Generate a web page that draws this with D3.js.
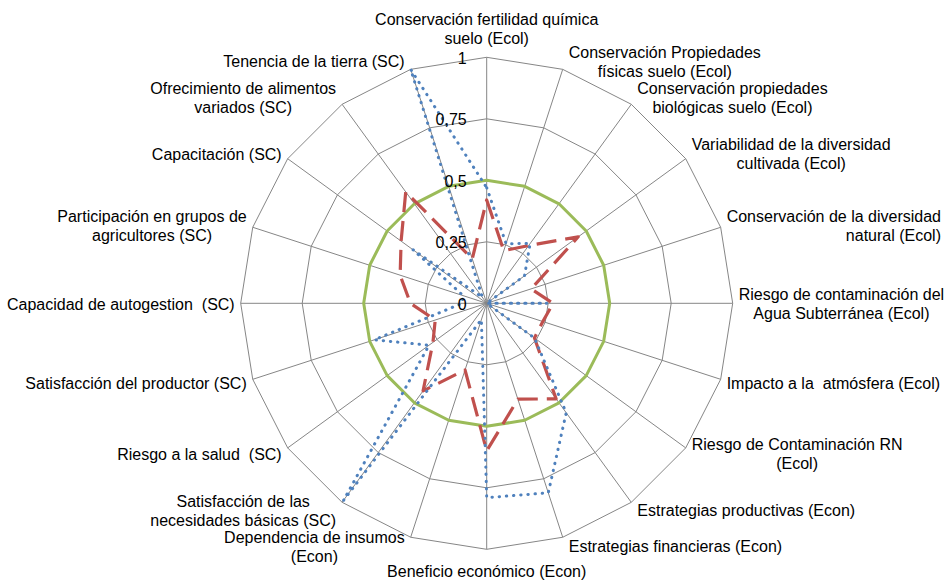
<!DOCTYPE html>
<html>
<head>
<meta charset="utf-8">
<script src="https://cdn.jsdelivr.net/npm/d3@7"></script>
<style>
  html, body { margin: 0; padding: 0; background: #ffffff; }
  svg { display: block; }
  text { font-family: "Liberation Sans", Arial, sans-serif; font-size: 16px; fill: #000; white-space: pre; }
</style>
</head>
<body>
<svg id="chart" width="946" height="581"></svg>
<script>
// Indicator names (line breaks marked with \n), clockwise from the top
const categories = [
  "Conservación fertilidad química\nsuelo (Ecol)",
  "Conservación Propiedades\nfísicas suelo (Ecol)",
  "Conservación propiedades\nbiológicas suelo (Ecol)",
  "Variabilidad de la diversidad\ncultivada (Ecol)",
  "Conservación de la diversidad\nnatural (Ecol)",
  "Riesgo de contaminación del\nAgua Subterránea (Ecol)",
  "Impacto a la  atmósfera (Ecol)",
  "Riesgo de Contaminación RN\n(Ecol)",
  "Estrategias productivas (Econ)",
  "Estrategias financieras (Econ)",
  "Beneficio económico (Econ)",
  "Dependencia de insumos\n(Econ)",
  "Satisfacción de las\nnecesidades básicas (SC)",
  "Riesgo a la salud  (SC)",
  "Satisfacción del productor (SC)",
  "Capacidad de autogestion  (SC)",
  "Participación en grupos de\nagricultores (SC)",
  "Capacitación (SC)",
  "Ofrecimiento de alimentos\nvariados (SC)",
  "Tenencia de la tierra (SC)"
];

// Normalised indicator values (0–1)
const sistemaA = [0.47, 0.255, 0.30, 0.19, 0.00, 0.245, 0.00, 0.24, 0.55, 0.81,
                  0.79, 0.07, 0.99, 0.29, 0.48, 0.10, 0.10, 0.37, 0.03, 1.00];
const sistemaB = [0.42, 0.225, 0.29, 0.46, 0.19, 0.27, 0.24, 0.24, 0.48, 0.41,
                  0.60, 0.285, 0.44, 0.27, 0.22, 0.31, 0.37, 0.43, 0.56, 0.19];
const umbral   = [0.5, 0.5, 0.5, 0.5, 0.5, 0.5, 0.5, 0.5, 0.5, 0.5,
                  0.5, 0.5, 0.5, 0.5, 0.5, 0.5, 0.5, 0.5, 0.5, 0.5];

// Radial axis ticks
const tickValues = [0, 0.25, 0.5, 0.75, 1];
const tickLabels = ["0", "0,25", "0,5", "0,75", "1"];

// ---- layout ----
const cx = 486.7, cy = 303.3, R = 246;
const svg = d3.select("#chart");
const g = svg.append("g").attr("transform", `translate(${cx},${cy})`);

const r = d3.scaleLinear().domain([0, 1]).range([0, R]);
const angle = d3.scaleLinear().domain([0, categories.length]).range([0, 2 * Math.PI]);

const radial = d3.lineRadial()
  .angle((d, i) => angle(i))
  .radius(d => r(d))
  .curve(d3.curveLinearClosed);

// grid rings
g.selectAll("path.ring")
  .data(tickValues.filter(v => v > 0))
  .join("path")
  .attr("class", "ring")
  .attr("d", v => radial(categories.map(() => v)))
  .attr("fill", "none")
  .attr("stroke", "#868686")
  .attr("stroke-width", 1);

// spokes
g.selectAll("line.spoke")
  .data(categories)
  .join("line")
  .attr("class", "spoke")
  .attr("x1", 0).attr("y1", 0)
  .attr("x2", (d, i) => r(1) * Math.sin(angle(i)))
  .attr("y2", (d, i) => -r(1) * Math.cos(angle(i)))
  .attr("stroke", "#868686")
  .attr("stroke-width", 1);

// series
const series = [
  { values: umbral,   color: "#9BBB59", width: 3,   dash: null,      cap: "butt" },
  { values: sistemaB, color: "#C0504D", width: 3.2, dash: "20 9",    cap: "butt" },
  { values: sistemaA, color: "#4F81BD", width: 3,   dash: "0.4 6.8", cap: "round" }
];
g.selectAll("path.serie")
  .data(series)
  .join("path")
  .attr("class", "serie")
  .attr("d", s => radial(s.values))
  .attr("fill", "none")
  .attr("stroke", s => s.color)
  .attr("stroke-width", s => s.width)
  .attr("stroke-dasharray", s => s.dash)
  .attr("stroke-linecap", s => s.cap)
  .attr("stroke-linejoin", "round");

// tick labels along the top spoke
g.selectAll("text.tick")
  .data(tickValues)
  .join("text")
  .attr("class", "tick")
  .attr("x", -20)
  .attr("y", v => -r(v) + 6.5)
  .attr("text-anchor", "end")
  .text((v, i) => tickLabels[i]);

// category labels
const lh = 19;
const alignEnd = new Set([4]);
categories.forEach((name, i) => {
  const a = angle(i), s = Math.sin(a), c = Math.cos(a);
  const px = r(1) * s, py = -r(1) * c;
  const lines = name.split("\n");
  const t = g.append("text").attr("class", "cat").attr("xml:space", "preserve");
  const spans = lines.map(l => t.append("tspan").text(l));
  const widths = spans.map(sp => sp.node().getComputedTextLength());
  const w = d3.max(widths);
  const n = lines.length;

  let left, centerY;
  if (Math.abs(s) < 1e-6) {
    left = px - w / 2;
    centerY = c > 0 ? py - 10 - n * lh / 2 : py + 12 + n * lh / 2;
  } else {
    left = s > 0 ? px + 6 : px - 6 - w;
    centerY = py - c * 9;
  }
  spans.forEach((sp, k) => {
    const y = centerY + (k - (n - 1) / 2) * lh + 6.5;
    if (alignEnd.has(i)) {
      sp.attr("x", left + w).attr("y", y).attr("text-anchor", "end");
    } else {
      sp.attr("x", left + w / 2).attr("y", y).attr("text-anchor", "middle");
    }
  });
});
</script>
</body>
</html>
